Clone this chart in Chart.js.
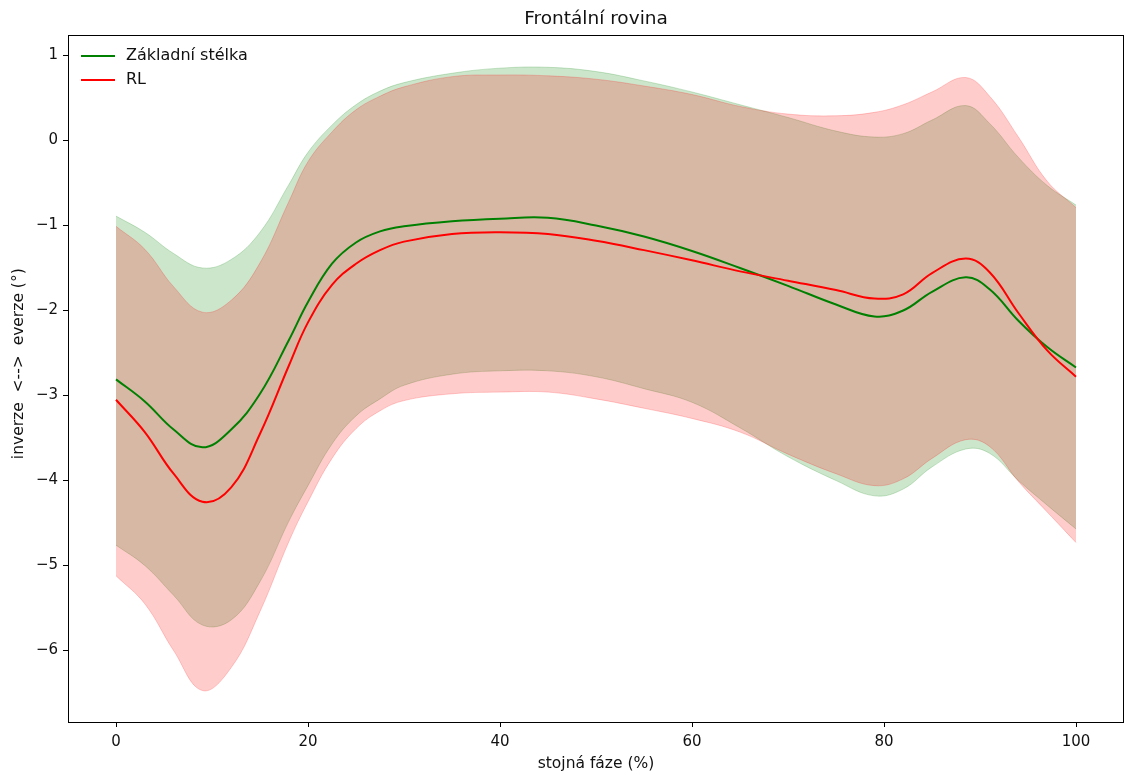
<!DOCTYPE html>
<html lang="cs">
<head>
<meta charset="utf-8">
<title>Frontální rovina</title>
<script src="https://cdn.jsdelivr.net/npm/chart.js@4.4.1/dist/chart.umd.min.js"></script>
<style>
  html, body { margin: 0; padding: 0; background: #fff; }
  #wrap { width: 1124px; height: 775px; }
</style>
</head>
<body>
<div id="wrap"><canvas id="frontChart"></canvas></div>
<script>
// stojná fáze (%) - x positions of the samples
const phase = [0, 3, 6, 9, 12, 15, 18, 20, 22.5, 25, 27.5, 30, 35, 40, 45, 50, 55, 60, 65, 70, 75, 79, 82, 85, 88.5, 91, 94, 97, 100];

// Základní stélka (mean, mean+sd, mean-sd)
const zakladniMean  = [-2.81, -3.07, -3.4, -3.61, -3.4, -2.98, -2.35, -1.9, -1.45, -1.2, -1.07, -1.01, -0.95, -0.92, -0.91, -1.0, -1.13, -1.3, -1.5, -1.71, -1.93, -2.07, -2.0, -1.78, -1.61, -1.75, -2.12, -2.43, -2.67];
const zakladniUpper = [-0.89, -1.08, -1.33, -1.5, -1.4, -1.08, -0.52, -0.14, 0.18, 0.42, 0.58, 0.68, 0.79, 0.85, 0.86, 0.81, 0.7, 0.57, 0.42, 0.27, 0.11, 0.04, 0.08, 0.24, 0.41, 0.2, -0.2, -0.53, -0.76];
const zakladniLower = [-4.76, -5.0, -5.35, -5.7, -5.64, -5.19, -4.48, -4.06, -3.57, -3.24, -3.04, -2.88, -2.75, -2.71, -2.71, -2.78, -2.92, -3.08, -3.38, -3.72, -4.0, -4.18, -4.1, -3.84, -3.63, -3.68, -4.0, -4.29, -4.57];

// RL (mean, mean+sd, mean-sd)
const rlMean  = [-3.05, -3.43, -3.92, -4.25, -4.08, -3.45, -2.65, -2.14, -1.7, -1.45, -1.29, -1.19, -1.1, -1.08, -1.1, -1.18, -1.29, -1.41, -1.54, -1.65, -1.76, -1.86, -1.81, -1.56, -1.39, -1.55, -2.03, -2.47, -2.78];
const rlUpper = [-1.01, -1.28, -1.72, -2.02, -1.88, -1.44, -0.72, -0.25, 0.1, 0.36, 0.52, 0.63, 0.75, 0.77, 0.76, 0.72, 0.64, 0.54, 0.4, 0.31, 0.29, 0.33, 0.42, 0.57, 0.74, 0.52, 0.04, -0.48, -0.79];
const rlLower = [-5.12, -5.45, -6.0, -6.47, -6.2, -5.54, -4.72, -4.25, -3.74, -3.39, -3.18, -3.06, -2.98, -2.96, -2.96, -3.04, -3.15, -3.27, -3.43, -3.69, -3.92, -4.06, -3.98, -3.74, -3.52, -3.6, -4.01, -4.37, -4.73];

const xTicks = [0, 20, 40, 60, 80, 100];
const yTicks = [-6, -5, -4, -3, -2, -1, 0, 1];

const FONT = "'DejaVu Sans', sans-serif";
const TEXT = '#111';
const pts = arr => phase.map((x, i) => ({ x: x, y: arr[i] }));
const minus = v => String(v).replace('-', '\u2212');

// ramecek kolem grafu (matplotlib styl)
const frameBox = {
    id: 'frameBox',
    afterDraw(chart) {
        const { ctx, chartArea: a } = chart;
        ctx.save();
        ctx.strokeStyle = '#000';
        ctx.lineWidth = 1;
        ctx.strokeRect(a.left + 0.5, a.top + 0.5, a.right - a.left - 1, a.bottom - a.top);
        ctx.restore();
    }
};

// legenda uvnitr grafu, bez ramecku
const legendInside = {
    id: 'legendInside',
    afterDraw(chart) {
        const { ctx, chartArea: a } = chart;
        const items = chart.data.datasets.filter(d => d.inLegend);
        ctx.save();
        ctx.font = '16px ' + FONT;
        ctx.textBaseline = 'middle';
        items.forEach((d, i) => {
            const y = a.top + 21 + i * 24;
            ctx.strokeStyle = d.borderColor;
            ctx.lineWidth = 2;
            ctx.beginPath();
            ctx.moveTo(a.left + 13, y);
            ctx.lineTo(a.left + 47, y);
            ctx.stroke();
            ctx.fillStyle = TEXT;
            ctx.fillText(d.label, a.left + 58, y);
        });
        ctx.restore();
    }
};

const smooth = { pointRadius: 0, tension: 0.4 };
const bandEdge = c => ({ borderColor: c, borderWidth: 1, ...smooth });

new Chart(document.getElementById('frontChart'), {
    type: 'line',
    data: {
        datasets: [
            // poradi: nejdriv pasy, pak cary navrch
            { label: 'Základní stélka', inLegend: true, data: pts(zakladniMean), borderColor: '#008000', borderWidth: 2,
              fill: false, ...smooth, order: 2 },
            { label: 'zakl_upper', data: pts(zakladniUpper), ...bandEdge('rgba(0,128,0,0.2)'),
              backgroundColor: 'rgba(0,128,0,0.2)', fill: '+1', order: 4 },
            { label: 'zakl_lower', data: pts(zakladniLower), ...bandEdge('rgba(0,128,0,0.2)'), fill: false, order: 4 },
            { label: 'RL', inLegend: true, data: pts(rlMean), borderColor: '#ff0000', borderWidth: 2,
              fill: false, ...smooth, order: 1 },
            { label: 'rl_upper', data: pts(rlUpper), ...bandEdge('rgba(255,0,0,0.2)'),
              backgroundColor: 'rgba(255,0,0,0.2)', fill: '+1', order: 3 },
            { label: 'rl_lower', data: pts(rlLower), ...bandEdge('rgba(255,0,0,0.2)'), fill: false, order: 3 }
        ]
    },
    options: {
        responsive: true,
        maintainAspectRatio: false,
        animation: false,
        events: [],
        layout: { padding: 0 },
        plugins: {
            legend: { display: false },
            title: { display: false },
            tooltip: { enabled: false }
        },
        scales: {
            x: {
                type: 'linear', position: 'bottom', min: -5, max: 105,
                afterBuildTicks: s => { s.ticks = xTicks.map(v => ({ value: v })); },
                afterFit: s => { s.height = 53; },
                grid: { drawOnChartArea: false, drawTicks: true, tickLength: 5, color: '#000' },
                border: { display: true, color: '#000', width: 1 },
                ticks: { color: TEXT, padding: 6, font: { family: FONT, size: 15 }, maxRotation: 0 },
                title: { display: true, text: 'stojná fáze (%)', color: TEXT, font: { family: FONT, size: 15.5 }, padding: { top: 0, bottom: 2 } }
            },
            top: {
                type: 'linear', position: 'top', min: -5, max: 105,
                afterFit: s => { s.height = 35; },
                grid: { display: false },
                border: { display: false },
                ticks: { display: false },
                title: { display: true, text: 'Frontální rovina', color: TEXT, font: { family: FONT, size: 18.5 }, padding: { top: 8, bottom: 0 } }
            },
            y: {
                type: 'linear', position: 'left', min: -6.84, max: 1.24,
                afterBuildTicks: s => { s.ticks = yTicks.map(v => ({ value: v })); },
                afterFit: s => { s.width = 68; },
                grid: { drawOnChartArea: false, drawTicks: true, tickLength: 5, color: '#000' },
                border: { display: true, color: '#000', width: 1 },
                ticks: { color: TEXT, padding: 5, font: { family: FONT, size: 15 }, callback: v => minus(v) },
                title: { display: true, text: '      inverze  <-->  everze (°)', color: TEXT, font: { family: FONT, size: 15.5 }, padding: { top: 10, bottom: 0 } }
            }
        }
    },
    plugins: [frameBox, legendInside]
});
</script>
</body>
</html>
